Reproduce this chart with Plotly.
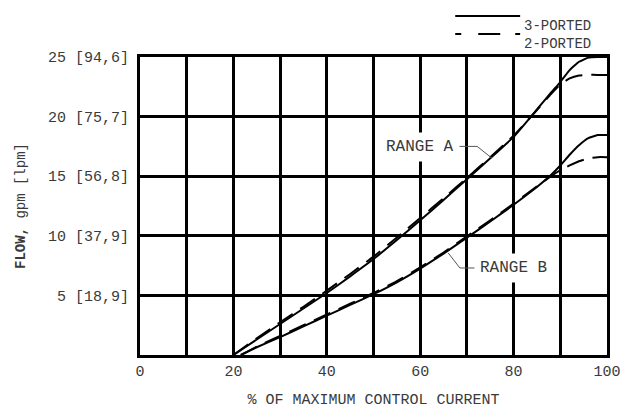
import plotly.graph_objects as go

# ---- data ----
range_a_x = [20, 25, 30, 35, 40, 45, 50, 55, 60, 65, 70, 75, 80, 85, 88, 90, 92, 94, 96, 98, 100]
range_a_3p = [0, 1.3, 2.6, 3.9, 5.2, 6.6, 8.05, 9.65, 11.3, 13.0, 14.75, 16.5, 18.3, 20.6, 22.0, 22.9, 23.9, 24.6, 24.95, 25.0, 25.0]
range_a_2p = [0, 1.4, 2.75, 4.05, 5.4, 6.8, 8.25, 9.85, 11.5, 13.15, 14.85, 16.6, 18.4, 20.55, 21.9, 22.7, 23.2, 23.45, 23.5, 23.5, 23.5]

range_b_x = [21.6, 25, 30, 35, 40, 45, 50, 55, 60, 65, 70, 75, 80, 85, 88, 90, 92, 94, 96, 98, 100]
range_b_3p = [0, 0.65, 1.5, 2.4, 3.3, 4.2, 5.1, 6.1, 7.25, 8.5, 9.85, 11.2, 12.6, 14.1, 15.1, 15.9, 16.8, 17.6, 18.2, 18.45, 18.45]
range_b_2p = [0, 0.7, 1.6, 2.5, 3.4, 4.3, 5.2, 6.2, 7.35, 8.6, 9.95, 11.3, 12.7, 14.15, 15.0, 15.5, 15.9, 16.25, 16.5, 16.6, 16.6]

x_ticks = [0, 20, 40, 60, 80, 100]
y_ticks = [5, 10, 15, 20, 25]
y_tick_text = ["5 [18,9]", "10 [37,9]", "15 [56,8]", "20 [75,7]", "25 [94,6]"]

FONT = "Liberation Mono, DejaVu Sans Mono, monospace"
TXT = "#3a3a3a"
DASH = "18px,9px"
LINE_SHAPE = dict(shape="spline", smoothing=0.35)

fig = go.Figure()
fig.add_trace(go.Scatter(x=range_a_x, y=range_a_3p, mode="lines", name="3-PORTED",
                         line=dict(color="black", width=2, **LINE_SHAPE)))
fig.add_trace(go.Scatter(x=range_a_x, y=range_a_2p, mode="lines", name="2-PORTED",
                         line=dict(color="black", width=2, dash=DASH, **LINE_SHAPE)))
fig.add_trace(go.Scatter(x=range_b_x, y=range_b_3p, mode="lines", name="3-PORTED",
                         line=dict(color="black", width=2, **LINE_SHAPE)))
fig.add_trace(go.Scatter(x=range_b_x, y=range_b_2p, mode="lines", name="2-PORTED",
                         line=dict(color="black", width=2, dash=DASH, **LINE_SHAPE)))

# leader lines for labels
fig.add_shape(type="path", xref="x", yref="y", path="M 68.3 17.5 L 72.2 17.5 L 75.4 16.5",
              line=dict(color="#555", width=1))
fig.add_shape(type="path", xref="x", yref="y", path="M 71.9 7.3 L 68.5 7.3 L 66.0 8.56",
              line=dict(color="#555", width=1))
fig.add_annotation(x=60, y=17.45, xref="x", yref="y", text="RANGE A", showarrow=False,
                   font=dict(family=FONT, size=16, color=TXT), bgcolor="white", borderpad=5)
fig.add_annotation(x=79.9, y=7.3, xref="x", yref="y", text="RANGE B", showarrow=False,
                   font=dict(family=FONT, size=16, color=TXT), bgcolor="white", borderpad=5)

# custom legend
fig.add_shape(type="line", xref="paper", yref="paper", x0=0.675, x1=0.814, y0=1.1376, y1=1.1376,
              line=dict(color="black", width=2))
fig.add_shape(type="line", xref="paper", yref="paper", x0=0.675, x1=0.814, y0=1.077, y1=1.077,
              line=dict(color="black", width=2, dash="6px,17px,22px,15px,6px"))
fig.add_annotation(x=0.818, y=1.1376, xref="paper", yref="paper", text="3-PORTED", showarrow=False,
                   xanchor="left", font=dict(family=FONT, size=14, color=TXT))
fig.add_annotation(x=0.818, y=1.077, xref="paper", yref="paper", text="2-PORTED", showarrow=False,
                   xanchor="left", font=dict(family=FONT, size=14, color=TXT))

fig.update_layout(
    width=622, height=414,
    margin=dict(l=140, r=15, t=57, b=59),
    paper_bgcolor="white", plot_bgcolor="white",
    showlegend=False,
    font=dict(family=FONT, size=14, color=TXT),
)
fig.update_xaxes(
    range=[0, 100], tickvals=x_ticks, ticktext=[str(v) for v in x_ticks],
    showgrid=True, gridcolor="black", gridwidth=2.5,
    minor=dict(dtick=10, showgrid=True, gridcolor="black", gridwidth=2.5),
    showline=True, linecolor="black", linewidth=3, mirror=True,
    ticks="", zeroline=False, automargin=False,
    title=dict(text="% OF MAXIMUM CONTROL CURRENT", font=dict(family=FONT, size=15, color=TXT), standoff=14),
    tickfont=dict(family=FONT, size=15, color=TXT),
)
fig.update_yaxes(
    range=[0, 25], tickvals=y_ticks, ticktext=y_tick_text,
    showgrid=True, gridcolor="black", gridwidth=2.5,
    showline=True, linecolor="black", linewidth=3, mirror=True,
    ticks="", zeroline=False, automargin=False,
    title=dict(text="<b>FLOW,</b> gpm [lpm]", font=dict(family=FONT, size=14, color=TXT), standoff=20),
    tickfont=dict(family=FONT, size=15, color=TXT),
    ticklabelstandoff=5,
)

fig.write_html("out.html", config={"displayModeBar": False},
               post_script="document.body.style.margin='0';document.body.style.overflow='hidden';")
